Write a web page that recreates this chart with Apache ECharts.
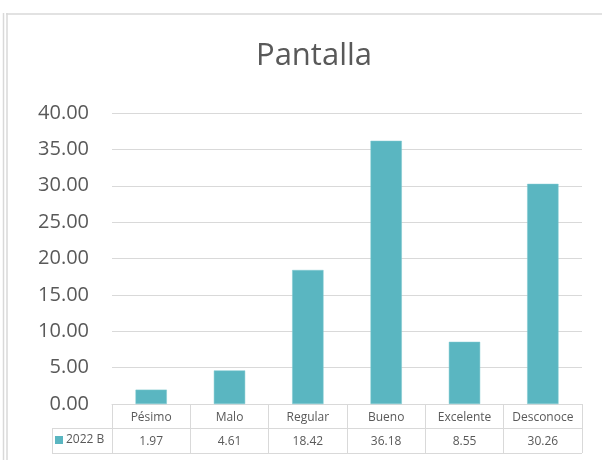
<!DOCTYPE html>
<html>
<head>
<meta charset="utf-8">
<script src="https://cdn.jsdelivr.net/npm/echarts@6/dist/echarts.min.js"></script>
<style>
html,body{margin:0;padding:0;background:#fff;}
#c{width:602px;height:460px;}
</style>
</head>
<body>
<div id="c"></div>
<script>
var categories = ['Pésimo', 'Malo', 'Regular', 'Bueno', 'Excelente', 'Desconoce'];
var values = [1.97, 4.61, 18.42, 36.18, 8.55, 30.26];
var seriesName = '2022 B';
var yTicks = [0, 5, 10, 15, 20, 25, 30, 35, 40];

var FONT = '"Open Sans", sans-serif';
var GRAY = '#595959';
var LINE = '#D9D9D9';
var BAR = '#5AB6C1';

var chart = echarts.init(document.getElementById('c'));

var gl = 112, gr = 582, gt = 113, gb = 404;
var tableMid = 428, tableBot = 453, keyLeft = 52;

chart.setOption({
  animation: false,
  backgroundColor: '#fff',
  title: {
    text: 'Pantalla',
    left: 309, top: 36, textAlign: 'center',
    textStyle: {fontFamily: FONT, fontSize: 31, fontWeight: 'normal', color: GRAY}
  },
  legend: {
    data: [seriesName],
    left: 55, top: 434,
    icon: 'rect', itemWidth: 8, itemHeight: 8, itemGap: 4,
    padding: 0,
    itemStyle: {borderWidth: 0},
    textStyle: {fontFamily: FONT, fontSize: 12, color: GRAY, padding: [0,0,0,-2]}
  },
  grid: {left: gl, right: 602 - gr, top: gt, bottom: 460 - gb, containLabel: false},
  yAxis: {
    type: 'value', min: yTicks[0], max: yTicks[yTicks.length - 1], interval: 5,
    axisLine: {show: false}, axisTick: {show: false},
    splitLine: {lineStyle: {color: LINE, width: 1}},
    axisLabel: {
      margin: 23, fontFamily: FONT, fontSize: 20, color: GRAY,
      formatter: function (v) { return v.toFixed(2); }
    }
  },
  xAxis: [{
    type: 'category', data: categories, position: 'bottom',
    axisLine: {show: true, lineStyle: {color: LINE, width: 1}},
    axisTick: {show: true, length: tableBot - gb, lineStyle: {color: LINE, width: 1}},
    axisLabel: {interval: 0, hideOverlap: false, margin: 8, fontFamily: FONT, fontSize: 12, color: GRAY}
  }, {
    type: 'category', data: values.map(function (v) { return v.toFixed(2); }), position: 'bottom',
    axisLine: {show: false}, axisTick: {show: false},
    axisLabel: {interval: 0, hideOverlap: false, margin: 32, fontFamily: FONT, fontSize: 12, color: GRAY}
  }],
  series: [{
    name: seriesName, type: 'bar', data: values, xAxisIndex: 0,
    barWidth: '40%',
    itemStyle: {color: BAR, borderColor: '#7FC8D0', borderWidth: 0.5}
  }],
  graphic: [
    {type: 'line', shape: {x1: keyLeft, y1: tableMid + 0.5, x2: gr, y2: tableMid + 0.5}, style: {stroke: LINE, lineWidth: 1}, z: 10},
    {type: 'line', shape: {x1: keyLeft, y1: tableBot + 0.5, x2: gr, y2: tableBot + 0.5}, style: {stroke: LINE, lineWidth: 1}, z: 10},
    {type: 'line', shape: {x1: keyLeft + 0.5, y1: tableMid, x2: keyLeft + 0.5, y2: tableBot}, style: {stroke: LINE, lineWidth: 1}, z: 10},
    {type: 'line', shape: {x1: 3.5, y1: 13, x2: 3.5, y2: 460}, style: {stroke: LINE, lineWidth: 1.5}, z: 10},
    {type: 'line', shape: {x1: 7, y1: 13, x2: 7, y2: 460}, style: {stroke: LINE, lineWidth: 1.5}, z: 10},
    {type: 'line', shape: {x1: 6, y1: 14, x2: 602, y2: 14}, style: {stroke: LINE, lineWidth: 1.5}, z: 10}
  ]
});
</script>
</body>
</html>
